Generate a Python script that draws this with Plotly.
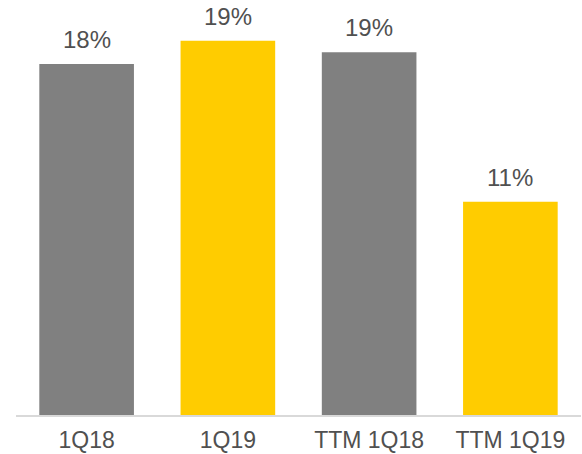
import plotly.graph_objects as go

categories = ["1Q18", "1Q19", "TTM 1Q18", "TTM 1Q19"]
values = [18.1, 19.3, 18.7, 11.0]
colors = ["#808080", "#FFCC00", "#808080", "#FFCC00"]

FONT = "Liberation Sans, Arial, sans-serif"
TEXT_COLOR = "#505050"

fig = go.Figure(
    go.Bar(
        x=categories,
        y=values,
        marker=dict(color=colors, line=dict(width=0)),
        width=0.67,
        hoverinfo="skip",
    )
)

# value labels above each bar
for cat, val in zip(categories, values):
    fig.add_annotation(
        x=cat, y=val, text=f"{val:.0f}%",
        showarrow=False, yanchor="bottom", yshift=9,
        font=dict(family=FONT, size=24, color=TEXT_COLOR),
    )

fig.update_layout(
    width=582, height=454,
    margin=dict(l=16, r=1, t=0, b=39),
    paper_bgcolor="white", plot_bgcolor="white",
    showlegend=False,
    font=dict(family=FONT, size=23, color=TEXT_COLOR),
    xaxis=dict(
        showline=True, linecolor="#D9D9D9", linewidth=2,
        showgrid=False, ticks="", automargin=False,
        ticklabelstandoff=3,
        tickfont=dict(family=FONT, size=23, color=TEXT_COLOR),
    ),
    yaxis=dict(
        range=[0, 21.4], visible=False, showgrid=False, zeroline=False,
    ),
)

fig.write_html("out.html")
